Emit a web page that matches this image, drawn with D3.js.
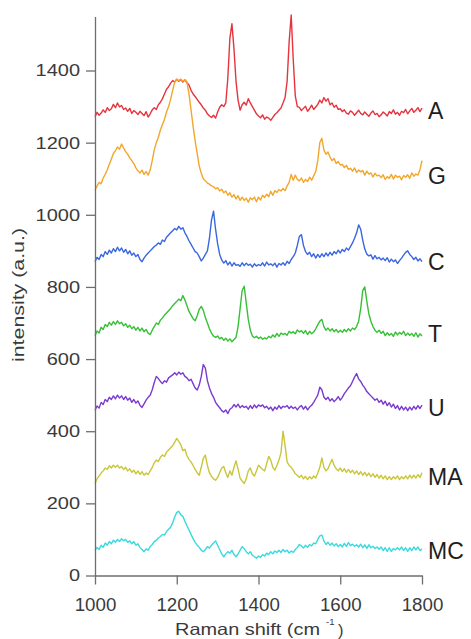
<!DOCTYPE html>
<html><head><meta charset="utf-8">
<script src="https://cdn.jsdelivr.net/npm/d3@7"></script>
<style>html,body{margin:0;padding:0;background:#fff;}svg{display:block;}</style>
</head><body>
<svg id="chart" width="471" height="639"></svg>
<script>
// ---------- DATA ----------
const shifts = [1000,1005,1010,1015,1020,1025,1030,1035,1040,1045,1050,1055,1060,1065,1070,1075,1080,1085,1090,1095,
1100,1105,1110,1115,1120,1125,1130,1135,1140,1145,1150,1155,1160,1165,1170,1175,1180,1185,1190,1195,
1200,1205,1210,1215,1220,1225,1230,1235,1240,1245,1250,1255,1260,1265,1270,1275,1280,1285,1290,1295,
1300,1305,1310,1315,1320,1325,1330,1335,1340,1345,1350,1355,1360,1365,1370,1375,1380,1385,1390,1395,
1400,1405,1410,1415,1420,1425,1430,1435,1440,1445,1450,1455,1460,1465,1470,1475,1480,1485,1490,1495,
1500,1505,1510,1515,1520,1525,1530,1535,1540,1545,1550,1555,1560,1565,1570,1575,1580,1585,1590,1595,
1600,1605,1610,1615,1620,1625,1630,1635,1640,1645,1650,1655,1660,1665,1670,1675,1680,1685,1690,1695,
1700,1705,1710,1715,1720,1725,1730,1735,1740,1745,1750,1755,1760,1765,1770,1775,1780,1785,1790,1795,1800];

const seriesA = [1272,1284,1276,1282,1291,1284,1297,1289,1294,1306, 1297,1310,1299,1303,1292,1296,1287,1295,1281,1289,
1284,1278,1287,1281,1275,1286,1271,1280,1291,1297, 1292,1305,1312,1322,1335,1348,1355,1365,1372,1368,
1376,1370,1375,1368,1374,1366,1360,1345,1335,1328, 1320,1312,1305,1296,1290,1280,1274,1270,1276,1268,
1285,1298,1305,1300,1310,1380,1490,1530,1460,1370, 1318,1290,1305,1312,1304,1322,1310,1300,1290,1280,
1274,1269,1277,1265,1271,1268,1262,1270,1278,1283, 1290,1296,1310,1325,1370,1480,1554,1430,1330,1300,
1298,1289,1295,1301,1287,1294,1304,1292,1299,1306, 1318,1310,1325,1315,1322,1305,1310,1298,1304,1292,
1294,1286,1291,1282,1279,1288,1284,1276,1283,1290, 1281,1277,1285,1279,1273,1282,1288,1278,1281,1272,
1277,1285,1280,1274,1286,1281,1291,1279,1284,1276, 1287,1283,1292,1280,1288,1295,1284,1290,1297,1286,1296];

const seriesG = [1068,1080,1090,1086,1102,1112,1125,1140,1155,1170, 1178,1188,1182,1196,1185,1175,1168,1158,1150,1142,
1130,1122,1116,1124,1112,1120,1110,1124,1150,1180, 1200,1215,1235,1250,1265,1285,1300,1320,1345,1368,
1375,1372,1376,1370,1375,1368,1335,1290,1245,1205, 1170,1135,1115,1100,1094,1088,1085,1080,1078,1072,
1075,1066,1071,1061,1066,1054,1061,1049,1056,1044, 1053,1040,1049,1040,1046,1035,1047,1042,1049,1036,
1049,1041,1054,1048,1057,1050,1065,1054,1067,1062, 1070,1066,1073,1067,1080,1090,1112,1096,1110,1098,
1094,1102,1090,1098,1092,1104,1096,1108,1120,1150, 1200,1212,1180,1168,1174,1160,1150,1156,1142,1148,
1138,1140,1131,1137,1126,1129,1121,1130,1117,1124, 1119,1123,1110,1121,1113,1116,1105,1115,1108,1110,
1103,1111,1098,1106,1101,1112,1099,1110,1104,1107, 1097,1109,1104,1111,1101,1116,1107,1113,1110,1125,1150];

const seriesC = [870,882,876,890,884,898,890,902,894,906, 898,910,900,908,896,904,892,900,888,894,
884,890,876,870,880,888,894,900,906,912, 916,922,918,930,926,938,944,950,956,962,
958,968,960,964,950,940,928,918,908,898, 894,884,872,880,890,900,935,985,1010,960,
920,890,875,866,873,861,869,858,867,860, 862,857,867,859,866,860,863,855,864,858,
862,859,867,858,869,861,864,859,866,855, 865,861,867,860,871,865,876,884,894,915,
940,945,915,898,890,896,884,892,880,890, 882,892,884,894,886,896,888,898,892,902,
894,904,898,908,902,912,922,935,950,972, 960,930,905,891,886,889,877,887,878,882,
875,880,873,881,869,877,870,875,865,873, 880,888,896,900,890,884,876,882,872,878,870];

const seriesT = [665,678,672,688,682,696,690,702,694,704, 696,706,698,702,692,698,688,694,684,690,
680,688,678,686,676,682,672,668,680,690, 700,696,708,714,722,728,734,740,748,754,
760,766,762,776,764,748,732,722,712,706, 720,738,746,735,715,700,684,672,664,660,
664,656,660,652,658,650,656,648,654,660, 690,740,790,802,755,710,680,664,659,663,
657,661,655,659,656,663,659,667,661,671, 663,672,668,671,666,677,672,676,670,681,
675,679,671,679,668,677,670,675,684,695, 705,710,690,680,686,678,684,676,682,674,
680,674,682,676,684,678,686,682,690,705, 740,790,800,760,725,705,690,680,674,680,
671,677,665,673,666,671,663,675,667,674, 669,677,665,672,666,671,663,673,661,670,664];

const seriesU = [458,470,464,480,474,488,482,494,488,498, 490,500,492,498,488,496,486,492,480,488,
478,484,472,466,476,486,494,500,515,535, 552,546,538,532,540,536,548,552,556,562,
556,564,558,562,552,548,540,544,532,520, 514,528,552,585,575,540,520,505,494,480,
472,465,457,453,459,449,461,465,474,467, 475,465,471,466,469,461,471,463,473,465,
473,469,473,465,469,461,467,457,467,461, 471,463,469,467,471,463,469,463,467,459,
467,471,461,469,459,467,472,480,490,500, 522,515,495,488,494,484,490,482,488,496,
486,494,504,512,520,526,538,550,560,545, 538,528,520,510,504,498,492,486,490,480,
486,475,483,471,479,467,475,463,471,459, 469,459,467,457,467,459,469,461,471,463,472];

const seriesMA = [255,268,276,284,290,298,294,304,298,306, 300,306,298,302,294,300,290,296,286,292,
282,290,280,288,278,284,280,290,300,312, 320,316,328,334,330,342,348,354,360,370,
380,372,362,346,350,332,322,315,305,294, 285,278,300,325,334,305,285,275,268,264,
272,285,298,302,285,272,290,278,300,318, 295,270,262,255,268,290,298,282,276,290,
306,300,294,290,310,330,320,300,292,305, 320,340,400,360,315,305,300,292,282,278,
272,278,268,275,266,274,268,276,270,284, 300,326,300,290,296,310,322,305,296,290,
298,288,296,286,294,285,292,282,290,280, 288,278,286,276,284,274,282,272,280,270,
278,268,276,266,274,266,274,268,276,266, 274,268,276,268,278,270,278,270,280,272,285];

const seriesMC = [70,78,72,84,78,90,84,94,88,98, 92,100,94,102,96,100,92,96,88,94,
84,88,78,72,66,74,70,80,86,94, 98,104,108,114,112,122,128,134,146,162,
175,178,168,164,150,138,126,114,102,92, 84,78,70,66,72,80,76,84,90,96,
84,72,60,52,60,66,62,70,58,52, 60,70,80,74,66,60,66,56,52,48,
54,50,58,54,62,58,66,60,68,64, 70,64,72,66,70,62,68,64,72,78,
86,82,76,84,78,86,82,90,88,100, 110,112,96,86,92,84,90,82,88,80,
86,79,89,81,91,83,87,81,85,79, 87,77,85,75,85,77,81,75,79,73,
79,69,77,67,77,67,75,71,77,71, 79,69,77,67,77,69,79,71,79,69,74];

const seriesNames = ["A","G","C","T","U","MA","MC"];
const seriesColors = ["#e6343f","#f2a72c","#3a66e0","#36c036","#7a3ad0","#c9c63a","#3ad9de"];
const seriesValues = [seriesA, seriesG, seriesC, seriesT, seriesU, seriesMA, seriesMC];
const labelBaselines = [1290, 1110, 870, 670, 465, 275, 70]; // label levels (data units)
const xTicks = [1000,1200,1400,1600,1800];
const yTicks = [0,200,400,600,800,1000,1200,1400];

// ---------- CHART ----------
const svg = d3.select("#chart");
const x = d3.scaleLinear().domain([1000,1800]).range([95,422]);
const y = d3.scaleLinear().domain([0,1550]).range([575.5,16.4]);
const font = "'Liberation Sans', Arial, Helvetica, sans-serif";
const fmt = d3.format("d");

const line = d3.line().x((d,i)=>x(shifts[i])).y(d=>y(d));

seriesValues.forEach((vals,k)=>{
  svg.append("path").datum(vals)
    .attr("d", line)
    .attr("fill","none")
    .attr("stroke", seriesColors[k])
    .attr("stroke-width", 1.4)
    .attr("stroke-linejoin","round");
});

// axes
const yAxis = svg.append("g").attr("transform","translate(95,0)")
  .call(d3.axisLeft(y).tickValues(yTicks).tickFormat(fmt).tickSize(9).tickPadding(6).tickSizeOuter(0));
const xAxis = svg.append("g").attr("transform","translate(0,575.5)")
  .call(d3.axisBottom(x).tickValues(xTicks).tickFormat(fmt).tickSize(9).tickPadding(14).tickSizeOuter(0));
[yAxis,xAxis].forEach(g=>{
  g.select(".domain").attr("stroke","#6e6e6e").attr("stroke-width",1.3);
  g.selectAll(".tick line").attr("stroke","#6e6e6e").attr("stroke-width",1.3);
  g.selectAll(".tick text").attr("fill","#3a3a3a").attr("font-family",font);
});
yAxis.selectAll(".tick text").attr("font-size",17)
  .attr("textLength", d=>fmt(d).length*11.1).attr("lengthAdjust","spacingAndGlyphs");
xAxis.selectAll(".tick text").attr("font-size",18)
  .attr("textLength", d=>fmt(d).length*10.4).attr("lengthAdjust","spacingAndGlyphs");

// y title
svg.append("text")
  .attr("transform","translate(23.5,295) rotate(-90)")
  .attr("text-anchor","middle")
  .attr("font-family",font).attr("font-size",17).attr("fill","#3a3a3a")
  .attr("textLength",134).attr("lengthAdjust","spacingAndGlyphs")
  .text("intensity (a.u.)");

// x title
svg.append("text").attr("x",175).attr("y",635)
  .attr("font-family",font).attr("font-size",16.5).attr("fill","#3a3a3a")
  .attr("textLength",145).attr("lengthAdjust","spacingAndGlyphs")
  .text("Raman shift (cm");
svg.append("text").attr("x",326).attr("y",625)
  .attr("font-family",font).attr("font-size",9.5).attr("fill","#3a3a3a")
  .text("-1");
svg.append("text").attr("x",338).attr("y",636)
  .attr("font-family",font).attr("font-size",16.5).attr("fill","#3a3a3a")
  .text(")");

// series labels
seriesNames.forEach((n,k)=>{
  svg.append("text")
    .attr("x",428).attr("y", y(labelBaselines[k]) + 8.5)
    .attr("font-family",font).attr("font-size",23).attr("fill","#1e1e1e")
    .text(n);
});
</script>
</body></html>
